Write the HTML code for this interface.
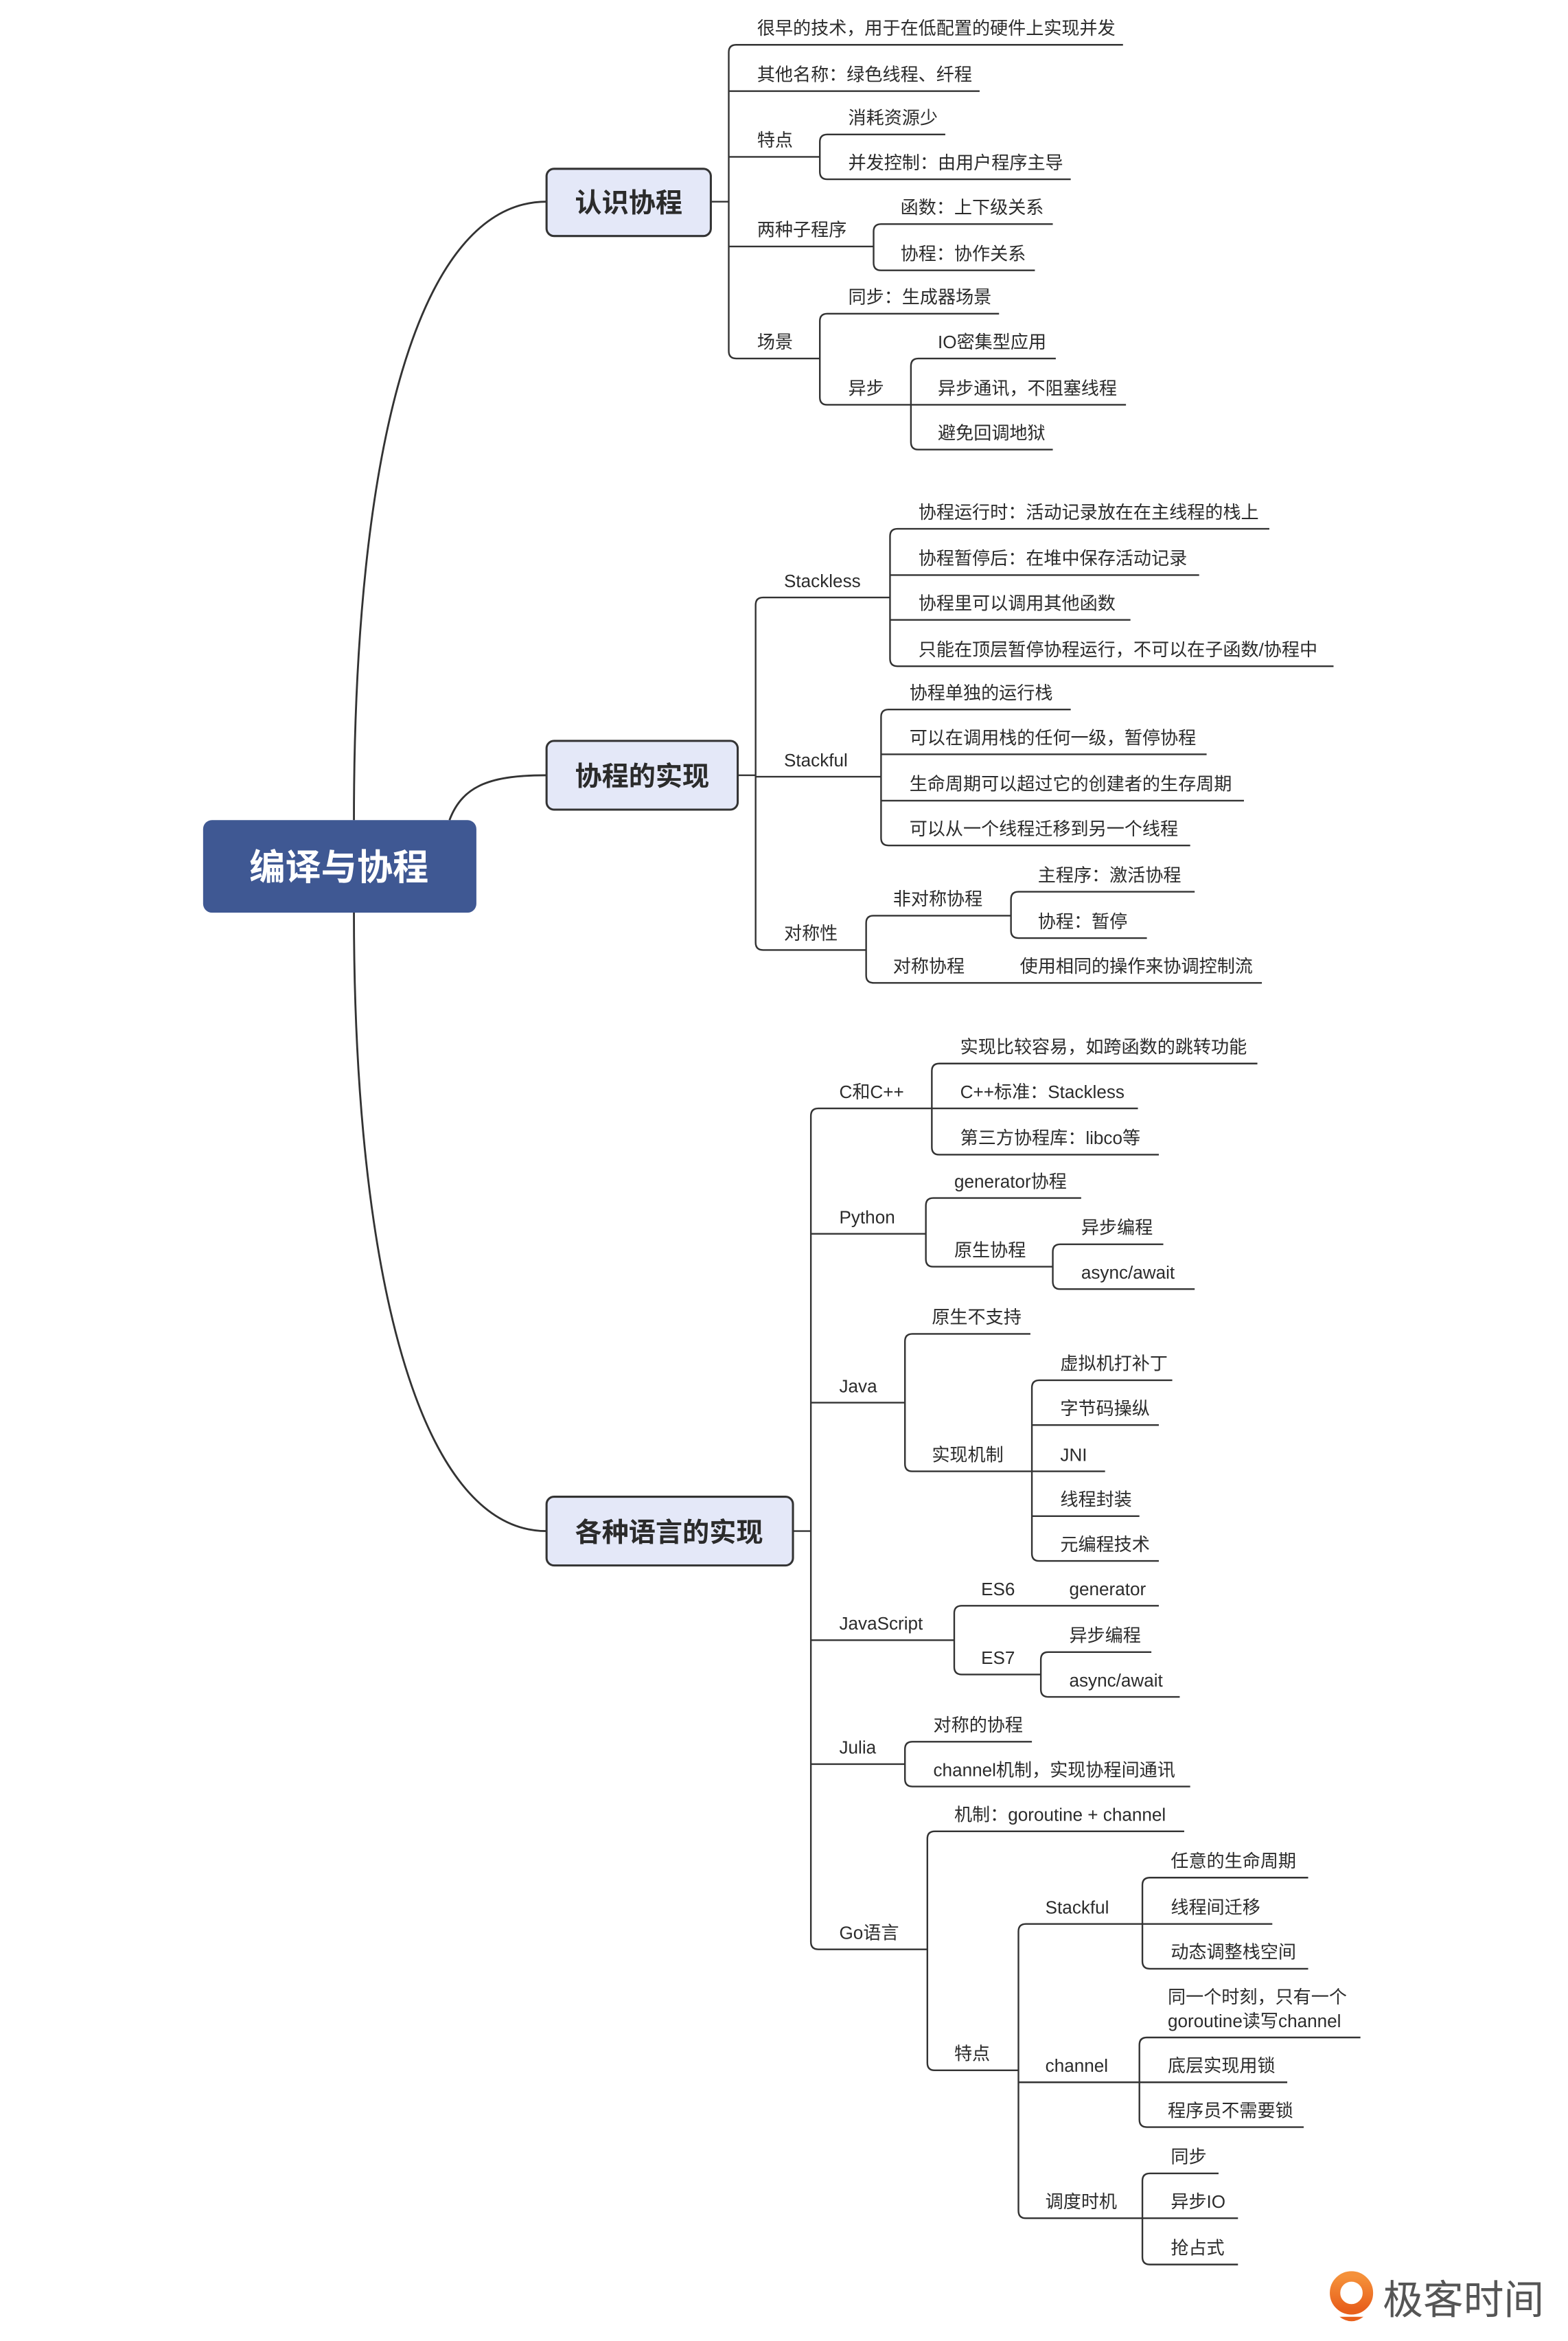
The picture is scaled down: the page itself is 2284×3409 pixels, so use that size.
<!DOCTYPE html>
<html><head><meta charset="utf-8"><style>
html,body{margin:0;padding:0;background:#fff;}
svg{display:block;}
text{font-family:"Liberation Sans","Noto Sans CJK SC",sans-serif;fill:#2b2b2b;font-size:12px;}
.b{font-size:18px;font-weight:bold;}
</style></head><body>
<svg width="2284" height="3409" viewBox="0 0 1050 1567.2" xmlns="http://www.w3.org/2000/svg">
<g fill="none" stroke="#333" stroke-width="1.3">
<path d="M237,549 C237,300 280,135 366,135"/>
<path d="M301,549 C310,525 330,519 366,519"/>
<path d="M237,611 C237,850 280,1025 366,1025"/>
</g>
<rect x="136" y="549" width="183" height="62" rx="6" fill="#3f5893"/>
<text x="227" y="589" text-anchor="middle" style="font-size:24px;font-weight:bold;fill:#fff">编译与协程</text>
<g fill="#e4e8f8" stroke="#333" stroke-width="1.4">
<rect x="366" y="113" width="110" height="45" rx="5"/>
<rect x="366" y="496" width="128" height="46" rx="5"/>
<rect x="366" y="1002" width="165" height="46" rx="5"/>
</g>
<text class="b" x="421" y="142" text-anchor="middle">认识协程</text>
<text class="b" x="430" y="526" text-anchor="middle">协程的实现</text>
<text class="b" x="448" y="1032" text-anchor="middle">各种语言的实现</text>

<g fill="none" stroke="#333" stroke-width="1.1">
<!-- section1 -->
<path d="M476,135H488"/>
<path d="M488,35V235M488,35Q488,30 493,30H752M488,235Q488,240 493,240H549M488,61H656M488,105H549M488,165H585"/>
<path d="M549,95V115M549,95Q549,90 554,90H633M549,115Q549,120 554,120H717"/>
<path d="M585,155V176M585,155Q585,150 590,150H705M585,176Q585,181 590,181H693"/>
<path d="M549,215V266M549,215Q549,210 554,210H669M549,266Q549,271 554,271H610"/>
<path d="M610,245V296M610,245Q610,240 615,240H707M610,271H754M610,296Q610,301 615,301H705"/>
<!-- section2 -->
<path d="M494,519H506"/>
<path d="M506,405V631M506,405Q506,400 511,400H596M506,520H590M506,631Q506,636 511,636H580"/>
<path d="M596,359V441M596,359Q596,354 601,354H850M596,385H803M596,415H757M596,441Q596,446 601,446H893"/>
<path d="M590,480V561M590,480Q590,475 595,475H717M590,505H808M590,536H833M590,561Q590,566 595,566H797"/>
<path d="M580,618V653M580,618Q580,613 585,613H677M580,653Q580,658 585,658H845"/>
<path d="M677,602V623M677,602Q677,597 682,597H800M677,623Q677,628 682,628H768"/>
<!-- section3 -->
<path d="M531,1025H543"/>
<path d="M543,747V1300M543,747Q543,742 548,742H624M543,826H620M543,939H606M543,1098H639M543,1181H606M543,1300Q543,1305 548,1305H621"/>
<path d="M624,717V768M624,717Q624,712 629,712H842M624,742H762M624,768Q624,773 629,773H776"/>
<path d="M620,807V843M620,807Q620,802 625,802H724M620,843Q620,848 625,848H705"/>
<path d="M705,838V858M705,838Q705,833 710,833H779M705,858Q705,863 710,863H800"/>
<path d="M606,898V980M606,898Q606,893 611,893H690M606,980Q606,985 611,985H691"/>
<path d="M691,929V1040M691,929Q691,924 696,924H785M691,954H776M691,985H740M691,1015H763M691,1040Q691,1045 696,1045H776"/>
<path d="M639,1080V1116M639,1080Q639,1075 644,1075H776M639,1116Q639,1121 644,1121H697"/>
<path d="M697,1111V1131M697,1111Q697,1106 702,1106H771M697,1131Q697,1136 702,1136H790"/>
<path d="M606,1171V1191M606,1171Q606,1166 611,1166H691M606,1191Q606,1196 611,1196H797"/>
<path d="M621,1231V1381M621,1231Q621,1226 626,1226H793M621,1381Q621,1386 626,1386H682"/>
<path d="M682,1293V1480M682,1293Q682,1288 687,1288H765M682,1394H763M682,1480Q682,1485 687,1485H765"/>
<path d="M765,1262V1313M765,1262Q765,1257 770,1257H876M765,1288H852M765,1313Q765,1318 770,1318H876"/>
<path d="M763,1369V1419M763,1369Q763,1364 768,1364H911M763,1394H862M763,1419Q763,1424 768,1424H873"/>
<path d="M765,1460V1511M765,1460Q765,1455 770,1455H816M765,1485H829M765,1511Q765,1516 770,1516H829"/>
</g>

<text x="507" y="23">很早的技术，用于在低配置的硬件上实现并发</text>
<text x="507" y="54">其他名称：绿色线程、纤程</text>
<text x="507" y="98">特点</text>
<text x="568" y="83">消耗资源少</text>
<text x="568" y="113">并发控制：由用户程序主导</text>
<text x="507" y="158">两种子程序</text>
<text x="603" y="143">函数：上下级关系</text>
<text x="603" y="174">协程：协作关系</text>
<text x="507" y="233">场景</text>
<text x="568" y="203">同步：生成器场景</text>
<text x="628" y="233">IO密集型应用</text>
<text x="568" y="264">异步</text>
<text x="628" y="264">异步通讯，不阻塞线程</text>
<text x="628" y="294">避免回调地狱</text>

<text x="525" y="393">Stackless</text>
<text x="615" y="347">协程运行时：活动记录放在在主线程的栈上</text>
<text x="615" y="378">协程暂停后：在堆中保存活动记录</text>
<text x="615" y="408">协程里可以调用其他函数</text>
<text x="615" y="439">只能在顶层暂停协程运行，不可以在子函数/协程中</text>
<text x="525" y="513">Stackful</text>
<text x="609" y="468">协程单独的运行栈</text>
<text x="609" y="498">可以在调用栈的任何一级，暂停协程</text>
<text x="609" y="529">生命周期可以超过它的创建者的生存周期</text>
<text x="609" y="559">可以从一个线程迁移到另一个线程</text>
<text x="525" y="629">对称性</text>
<text x="598" y="606">非对称协程</text>
<text x="695" y="590">主程序：激活协程</text>
<text x="695" y="621">协程：暂停</text>
<text x="598" y="651">对称协程</text>
<text x="683" y="651">使用相同的操作来协调控制流</text>

<text x="562" y="735">C和C++</text>
<text x="643" y="705">实现比较容易，如跨函数的跳转功能</text>
<text x="643" y="735">C++标准：Stackless</text>
<text x="643" y="766">第三方协程库：libco等</text>
<text x="562" y="819">Python</text>
<text x="639" y="795">generator协程</text>
<text x="639" y="841">原生协程</text>
<text x="724" y="826">异步编程</text>
<text x="724" y="856">async/await</text>
<text x="562" y="932">Java</text>
<text x="624" y="886">原生不支持</text>
<text x="624" y="978">实现机制</text>
<text x="710" y="917">虚拟机打补丁</text>
<text x="710" y="947">字节码操纵</text>
<text x="710" y="978">JNI</text>
<text x="710" y="1008">线程封装</text>
<text x="710" y="1038">元编程技术</text>
<text x="562" y="1091">JavaScript</text>
<text x="657" y="1068">ES6</text>
<text x="716" y="1068">generator</text>
<text x="657" y="1114">ES7</text>
<text x="716" y="1099">异步编程</text>
<text x="716" y="1129">async/await</text>
<text x="562" y="1174">Julia</text>
<text x="625" y="1159">对称的协程</text>
<text x="625" y="1189">channel机制，实现协程间通讯</text>
<text x="562" y="1298">Go语言</text>
<text x="639" y="1219">机制：goroutine + channel</text>
<text x="639" y="1379">特点</text>
<text x="700" y="1281">Stackful</text>
<text x="784" y="1250">任意的生命周期</text>
<text x="784" y="1281">线程间迁移</text>
<text x="784" y="1311">动态调整栈空间</text>
<text x="700" y="1387">channel</text>
<text x="782" y="1341">同一个时刻，只有一个</text>
<text x="782" y="1357">goroutine读写channel</text>
<text x="782" y="1387">底层实现用锁</text>
<text x="782" y="1417">程序员不需要锁</text>
<text x="700" y="1478">调度时机</text>
<text x="784" y="1448">同步</text>
<text x="784" y="1478">异步IO</text>
<text x="784" y="1509">抢占式</text>

<defs><linearGradient id="og" x1="0" y1="0" x2="0" y2="1"><stop offset="0" stop-color="#f5913a"/><stop offset="1" stop-color="#e8601c"/></linearGradient></defs>
<circle cx="905" cy="1535" r="11" fill="none" stroke="url(#og)" stroke-width="7"/>
<path d="M897,1551 Q905,1557 913,1551 Z" fill="#e8601c"/>
<text x="926" y="1549" style="font-size:27px;fill:#555">极客时间</text>
</svg>
</body></html>
